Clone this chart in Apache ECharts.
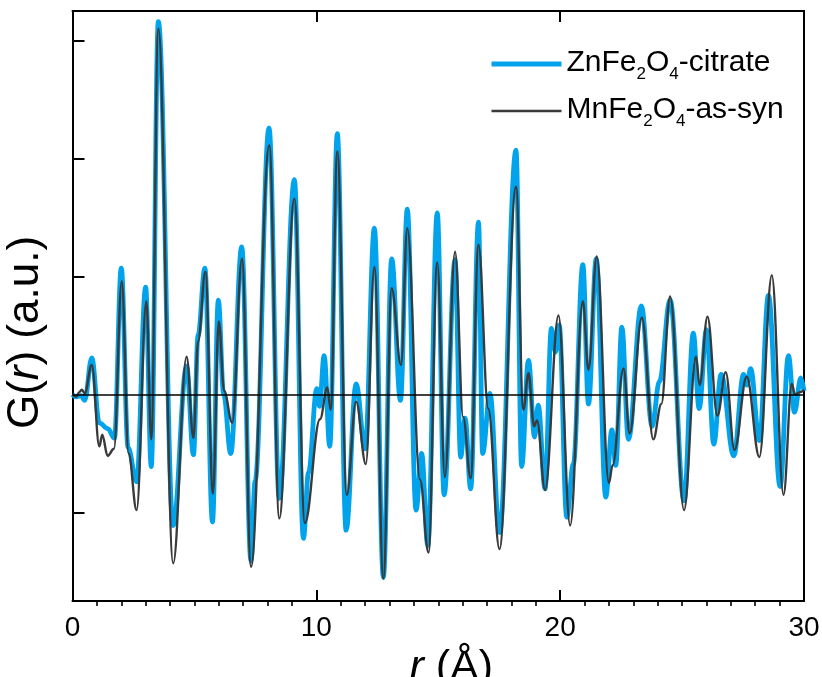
<!DOCTYPE html>
<html>
<head>
<meta charset="utf-8">
<script src="https://cdn.jsdelivr.net/npm/echarts@6/dist/echarts.min.js"></script>
<style>
html,body{margin:0;padding:0;background:#fff;}
#chart{width:822px;height:677px;}
</style>
</head>
<body>
<div id="chart"></div>
<script>
// ---- data ----
const seriesNames = ['ZnFe2O4-citrate', 'MnFe2O4-as-syn'];

// ZnFe2O4-citrate : r (Å) and G(r) (a.u.)
const znR = [0.00,0.15,0.35,0.50,0.79,1.10,1.45,1.72,2.00,2.28,2.63,3.00,3.23,3.52,4.13,4.68,4.96,5.15,5.43,5.74,5.98,6.20,6.49,6.94,7.32,7.49,8.06,8.48,9.10,9.47,9.68,10.02,10.13,10.32,10.55,10.86,11.22,11.63,12.00,12.38,12.75,13.09,13.45,13.73,14.09,14.32,14.57,14.96,15.24,15.69,15.92,16.10,16.33,16.65,16.82,17.12,17.51,18.19,18.42,18.70,18.95,19.10,19.38,19.64,19.81,19.96,20.27,20.54,20.93,21.16,21.48,21.87,22.12,22.28,22.53,22.80,23.33,23.77,24.07,24.51,25.08,25.46,25.70,26.00,26.30,26.60,27.12,27.52,27.66,27.81,28.17,28.54,29.02,29.36,29.61,29.87,30.00];
const znG = [0.00,-0.02,-0.01,-0.05,0.31,-0.24,-0.29,-0.37,1.07,-0.45,-0.74,0.91,-0.61,3.16,-1.11,0.24,-0.51,0.50,1.07,-1.08,0.80,0.00,-0.50,1.25,-1.41,-0.73,2.26,-0.88,1.82,-1.22,-0.66,0.05,-0.10,0.33,-0.44,2.21,-1.15,0.09,-0.46,1.41,-1.55,1.15,-0.05,1.57,-0.98,-0.50,-1.28,1.54,-0.85,1.14,-0.53,-0.20,-0.80,1.46,-0.50,0.01,-1.17,2.07,-0.61,0.29,-0.36,-0.09,-0.80,0.56,0.36,0.59,-1.04,-0.59,1.10,-0.08,1.15,-0.87,-0.30,-0.60,0.57,-0.38,0.75,-0.27,0.11,0.80,-0.90,0.52,-0.12,0.55,-0.42,0.17,-0.52,0.17,0.08,0.22,-0.39,0.84,-0.78,0.33,-0.15,0.14,0.03];

// MnFe2O4-as-syn : r (Å) and G(r) (a.u.)
const mnR = [0.00,0.15,0.28,0.38,0.50,0.79,1.10,1.22,1.44,1.70,2.02,2.30,2.63,3.03,3.23,3.52,4.13,4.68,4.96,5.15,5.45,5.76,6.00,6.22,6.55,6.95,7.32,8.07,8.48,9.10,9.53,10.15,10.45,10.59,10.86,11.25,11.63,12.03,12.38,12.75,13.09,13.47,13.73,14.25,14.60,14.96,15.27,15.69,16.02,16.33,16.65,17.05,17.51,18.19,18.49,18.70,18.93,19.05,19.38,19.93,20.41,20.93,21.16,21.50,22.00,22.15,22.60,22.85,23.35,23.82,24.15,24.51,25.08,25.57,25.72,26.04,26.45,26.79,27.15,27.65,28.17,28.68,29.16,29.50,29.63,29.85,30.00];
const mnG = [0.00,-0.02,0.02,0.04,0.01,0.25,-0.44,-0.34,-0.52,-0.46,0.96,-0.50,-0.98,0.79,-0.38,3.10,-1.43,0.32,-0.37,0.45,1.04,-0.84,0.62,0.03,-0.24,1.15,-1.46,2.11,-1.05,1.66,-1.09,-0.21,0.06,-0.13,2.06,-0.85,-0.06,-0.59,1.08,-1.56,0.90,0.25,1.41,-0.72,-1.34,1.12,-0.70,1.21,-0.19,-0.71,1.27,-0.12,-1.31,1.76,-0.13,0.18,-0.27,-0.22,-0.81,0.67,-1.11,0.79,0.21,1.17,-0.75,-0.60,0.22,-0.33,0.65,-0.38,-0.08,0.83,-0.98,0.32,0.08,0.66,-0.18,0.19,-0.47,0.15,-0.53,1.01,-0.85,0.09,0.00,0.02,0.04];

// axis ticks
const xTickValues = [0, 10, 20, 30];
const yTickValues = [-1, 0, 1, 2, 3];

// ---- chart ----
const FONT = 'Liberation Sans, Arial, sans-serif';
const BLUE = '#00a3ec';
const DARK = '#3a3a3a';
const pairs = (xs, ys) => xs.map((x, i) => [x, ys[i]]);
const legendRich = {
  'ZnFe2O4-citrate': '{n|ZnFe}{s|2}{n|O}{s|4}{n|-citrate}',
  'MnFe2O4-as-syn': '{n|MnFe}{s|2}{n|O}{s|4}{n|-as-syn}'
};

const axisLineStyle = { color: '#000', width: 2 };

const chart = echarts.init(document.getElementById('chart'), null, { renderer: 'canvas' });
chart.setOption({
  animation: false,
  backgroundColor: '#fff',
  grid: { left: 72.5, right: 18, top: 11, bottom: 76, outerBoundsMode: 'none', containLabel: false },
  legend: {
    orient: 'vertical',
    left: 484,
    top: 43,
    itemWidth: 70,
    itemHeight: 14,
    itemGap: 12,
    data: [
      { name: seriesNames[0], lineStyle: { width: 5, color: BLUE } },
      { name: seriesNames[1], lineStyle: { width: 2.4, color: DARK } }
    ],
    itemStyle: { color: 'rgba(0,0,0,0)', borderColor: 'rgba(0,0,0,0)', borderWidth: 0 },
    formatter: name => legendRich[name],
    textStyle: {
      color: '#000',
      fontFamily: FONT,
      fontSize: 30,
      rich: {
        n: { fontSize: 30, fontFamily: FONT, color: '#000', verticalAlign: 'bottom', padding: [0, 0, 5, 0], lineHeight: 38 },
        s: { fontSize: 17, fontFamily: FONT, color: '#000', verticalAlign: 'bottom', padding: [0, 0, 0, 0], lineHeight: 38 }
      }
    }
  },
  xAxis: [
    {
      type: 'value', position: 'bottom', min: 0, max: 30, interval: 10,
      axisLine: { show: true, onZero: false, lineStyle: axisLineStyle },
      axisTick: { show: true, inside: true, length: 11, lineStyle: { color: '#000', width: 2 } },
      minorTick: { show: true, splitNumber: 10, length: -5, lineStyle: { color: '#000', width: 1.6 } },
      axisLabel: { show: true, color: '#000', fontFamily: FONT, fontSize: 28, margin: 13, customValues: xTickValues },
      splitLine: { show: false }, minorSplitLine: { show: false },
      name: '{i|r} (Å)',
      nameLocation: 'middle',
      nameGap: 36,
      nameTextStyle: {
        color: '#000', fontFamily: FONT, fontSize: 43, padding: [0, 0, 0, 26],
        rich: { i: { fontStyle: 'italic', fontFamily: FONT, fontSize: 43, color: '#000' } }
      }
    },
    {
      type: 'value', position: 'top', min: 0, max: 30, interval: 10,
      axisLine: { show: true, onZero: false, lineStyle: axisLineStyle },
      axisTick: { show: true, inside: true, length: 11, lineStyle: { color: '#000', width: 2 } },
      axisLabel: { show: false },
      splitLine: { show: false }
    }
  ],
  yAxis: [
    {
      type: 'value', position: 'left', min: -1.75, max: 3.25,
      axisLine: { show: true, onZero: false, lineStyle: axisLineStyle },
      axisTick: { show: true, inside: true, length: 12, customValues: yTickValues, lineStyle: { color: '#000', width: 2 } },
      axisLabel: { show: false, customValues: yTickValues },
      splitLine: { show: false },
      name: '{n|G(}{i|r}{n|) (a.u.)}',
      nameLocation: 'middle',
      nameRotate: 90,
      nameGap: 25,
      nameTextStyle: {
        color: '#000', fontFamily: FONT, fontSize: 44, padding: [0, 53, 0, 0],
        rich: {
          n: { fontFamily: FONT, fontSize: 44, color: '#000' },
          i: { fontStyle: 'italic', fontFamily: FONT, fontSize: 44, color: '#000' }
        }
      }
    },
    {
      type: 'value', position: 'right', min: -1.75, max: 3.25,
      axisLine: { show: true, onZero: false, lineStyle: axisLineStyle },
      axisTick: { show: false },
      axisLabel: { show: false },
      splitLine: { show: false }
    }
  ],
  series: [
    {
      name: seriesNames[0],
      type: 'line',
      xAxisIndex: 0, yAxisIndex: 0,
      data: pairs(znR, znG),
      symbol: 'none',
      smooth: 0.38,
      smoothMonotone: 'x',
      lineStyle: { color: BLUE, width: 4.8 },
      itemStyle: { color: BLUE },
      z: 2
    },
    {
      name: seriesNames[1],
      type: 'line',
      xAxisIndex: 0, yAxisIndex: 0,
      data: pairs(mnR, mnG),
      symbol: 'none',
      smooth: 0.38,
      smoothMonotone: 'x',
      lineStyle: { color: DARK, width: 2.4 },
      itemStyle: { color: DARK },
      z: 3,
      markLine: {
        silent: true,
        symbol: 'none',
        label: { show: false },
        lineStyle: { color: '#000', width: 1.5, type: 'solid' },
        data: [{ yAxis: 0 }]
      }
    }
  ]
});
</script>
</body>
</html>
